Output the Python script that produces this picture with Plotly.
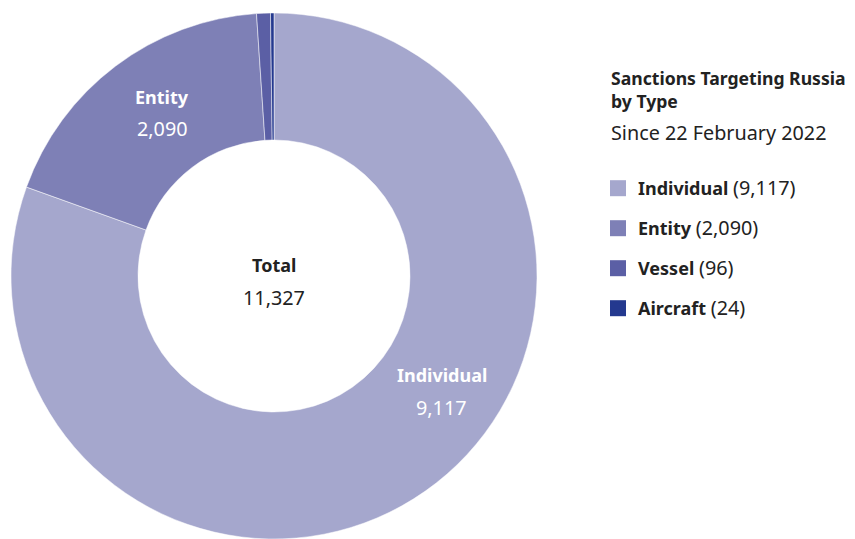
import plotly.graph_objects as go

categories = ["Individual", "Entity", "Vessel", "Aircraft"]
values = [9117, 2090, 96, 24]
colors = ["#a5a7cd", "#7e80b6", "#5b5fa5", "#24398f"]
total = sum(values)

FONT = "Noto Sans"
TXT = "#222222"
BOLD_SIZE = 18
REG_SIZE = 19.8

# page body adds an 8px margin; figure is sized to fill the rest of the window
W, H, OFF = 847, 531, 8
def px(x):
    return (x - OFF) / W
def py(y):
    return (H - (y - OFF)) / H

R = 263
CX = 274 - OFF
fig = go.Figure()
fig.add_trace(go.Pie(
    labels=categories, values=values, sort=False, direction="clockwise",
    rotation=0, hole=136/R, textinfo="none", showlegend=False,
    marker=dict(colors=colors, line=dict(color="white", width=0.5)),
    domain=dict(x=[(CX - R)/W, (CX + R)/W], y=[0, 2*R/H]),
))

# legend entries built from the same data
for i, (c, v, col) in enumerate(zip(categories, values, colors)):
    fig.add_trace(go.Scatter(
        x=[None], y=[None], mode="markers", legendgroup=f"g{i}",
        marker=dict(symbol="square", size=16, color=col),
        name=f"<b>{c}</b> <span style=\"font-size:{REG_SIZE}px\">({v:,})</span>",
        showlegend=True,
    ))

ann = []
def A(x, y, text, size, color=TXT, anchor="center"):
    ann.append(dict(x=px(x), y=py(y), xref="paper", yref="paper", text=text, showarrow=False,
                    xanchor=anchor, yanchor="middle", align=anchor,
                    font=dict(family=FONT, size=size, color=color)))

A(274, 265, "<b>Total</b>", BOLD_SIZE)
A(274, 297, f"{total:,}", REG_SIZE)
A(162, 97, f"<b>{categories[1]}</b>", BOLD_SIZE, color="white")
A(162, 128, f"{values[1]:,}", REG_SIZE, color="white")
A(442, 375, f"<b>{categories[0]}</b>", BOLD_SIZE, color="white")
A(442, 407, f"{values[0]:,}", REG_SIZE, color="white")
A(609, 89, "<b>Sanctions Targeting Russia<br>by Type</b>", 17.6, anchor="left")
A(609, 132, "Since 22 February 2022", REG_SIZE, anchor="left")

fig.update_layout(
    width=W, height=H, margin=dict(l=0, r=0, t=0, b=0),
    paper_bgcolor="white", plot_bgcolor="white",
    font=dict(family=FONT, size=BOLD_SIZE, color=TXT),
    xaxis=dict(visible=False), yaxis=dict(visible=False),
    annotations=ann,
    legend=dict(x=px(598), y=py(170), xanchor="left", yanchor="top",
                tracegroupgap=13.6, font=dict(family=FONT, size=BOLD_SIZE, color=TXT),
                bgcolor="rgba(0,0,0,0)", itemclick=False),
    hovermode=False,
)

fig.write_html("out.html")
